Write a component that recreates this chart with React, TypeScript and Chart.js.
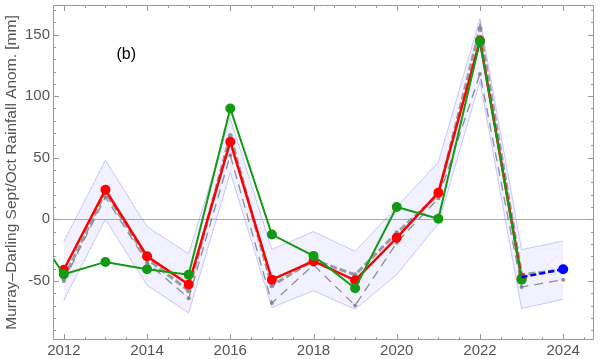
import React, { useEffect, useRef } from "react";
import { Chart, registerables } from "chart.js";

Chart.register(...registerables);

const greenYears = [2011, 2012, 2013, 2014, 2015, 2016, 2017, 2018, 2019, 2020, 2021, 2022, 2023];
const greenValues = [5, -44.6, -34.6, -40.5, -45, 90, -12.4, -29.7, -56, 10, 0.5, 144.6, -49];

const redYears = [2012, 2013, 2014, 2015, 2016, 2017, 2018, 2019, 2020, 2021, 2022, 2023];
const redValues = [-41, 24, -30, -53, 63, -49, -34, -49.5, -15, 21.6, 145, -48];

const blueYears = [2023, 2024];
const blueValues = [-47, -40.5];

const greyYears = [2012, 2013, 2014, 2015, 2016, 2017, 2018, 2019, 2020, 2021, 2022, 2023, 2024];
const greyAValues = [-48, 22, -32, -58, 68, -54, -33, -45, -11, 20, 155, -45, -41];
const greyBValues = [-50, 18, -35, -64, 52, -68, -37, -70, -19, 17, 118, -55, -49];

const bandYears = [2012, 2013, 2014, 2015, 2016, 2017, 2018, 2019, 2020, 2021, 2022, 2023, 2024];
const bandUpper = [-18, 48, -6, -28, 82, -24.5, -10, -26, 10, 46.5, 163, -24.6, -17.6];
const bandLower = [-66, 0, -53.5, -76, 38, -71.6, -58, -73, -45, -3.5, 112, -72.5, -65];

const xTickLabels = [2012, 2014, 2016, 2018, 2020, 2022, 2024];
const yTickLabels = [-50, 0, 50, 100, 150];

const panelLabel = "(b)";
const yTitle = "Murray\u2013Darling Sept/Oct Rainfall Anom. [mm]";

const toPts = (xs: number[], ys: number[]) => xs.map((x, i) => ({ x, y: ys[i] }));

const FONT = "'Liberation Sans', Arial, Helvetica, sans-serif";
const AXIS_COLOR = "#9a9a9a";
const TEXT_COLOR = "#555555";

const framePlugin = {
  id: "frameTicks",
  afterDraw(chart: any) {
    const { ctx, chartArea, scales } = chart;
    const { left, right, top, bottom } = chartArea;
    const xs = scales.x;
    const ys = scales.y;
    ctx.save();
    ctx.strokeStyle = AXIS_COLOR;
    ctx.lineWidth = 1;
    ctx.beginPath();
    ctx.rect(left + 0.5, top + 0.5, right - left - 1, bottom - top - 1);
    ctx.stroke();
    for (let v = 2011.5; v <= 2025; v += 0.5) {
      const px = Math.round(xs.getPixelForValue(v)) + 0.5;
      if (px <= left + 1 || px >= right - 1) continue;
      const major = Math.abs(v - Math.round(v)) < 1e-6 && Math.round(v) % 2 === 0;
      const len = major ? 6 : 3;
      ctx.beginPath();
      ctx.moveTo(px, bottom);
      ctx.lineTo(px, bottom - len);
      ctx.moveTo(px, top);
      ctx.lineTo(px, top + len);
      ctx.stroke();
    }
    for (let v = -90; v <= 170; v += 10) {
      const py = Math.round(ys.getPixelForValue(v)) + 0.5;
      if (py <= top + 1 || py >= bottom - 1) continue;
      const major = v % 50 === 0;
      const len = major ? 6 : 3;
      ctx.beginPath();
      ctx.moveTo(left, py);
      ctx.lineTo(left + len, py);
      ctx.moveTo(right, py);
      ctx.lineTo(right - len, py);
      ctx.stroke();
    }
    ctx.fillStyle = "#000";
    ctx.font = `16px ${FONT}`;
    ctx.textAlign = "center";
    ctx.textBaseline = "middle";
    ctx.fillText(panelLabel, xs.getPixelForValue(2013.5), ys.getPixelForValue(134));
    ctx.restore();
  },
};

export default function App() {
  const ref = useRef<HTMLCanvasElement | null>(null);

  useEffect(() => {
    document.body.style.margin = "0";
    const canvas = ref.current;
    if (!canvas) return;
    const greyA = "rgba(140,140,150,0.85)";
    const greyB = "rgba(130,130,140,0.9)";
    const chart = new Chart(canvas, {
      type: "line",
      data: {
        datasets: [
          {
            label: "band upper",
            data: toPts(bandYears, bandUpper),
            borderColor: "rgba(140,140,255,0.45)",
            borderWidth: 1,
            backgroundColor: "rgba(120,120,255,0.1)",
            pointRadius: 0,
            fill: "+1",
            order: 10,
          },
          {
            label: "band lower",
            data: toPts(bandYears, bandLower),
            borderColor: "rgba(140,140,255,0.45)",
            borderWidth: 1,
            pointRadius: 0,
            fill: false,
            order: 9,
          },
          {
            label: "grey B",
            data: toPts(greyYears, greyBValues),
            borderColor: greyB,
            borderWidth: 1.3,
            borderDash: [9, 6],
            pointRadius: 2,
            pointBackgroundColor: greyB,
            pointBorderWidth: 0,
            fill: false,
            order: 8,
          },
          {
            label: "grey A",
            data: toPts(greyYears, greyAValues),
            borderColor: greyA,
            borderWidth: 3,
            borderDash: [7, 3],
            pointRadius: 2.5,
            pointBackgroundColor: greyA,
            pointBorderWidth: 0,
            fill: false,
            order: 7,
          },
          {
            label: "red",
            data: toPts(redYears, redValues),
            borderColor: "#ff0000",
            borderWidth: 2.5,
            pointRadius: 5,
            pointBackgroundColor: "#ff0000",
            pointBorderWidth: 0,
            fill: false,
            order: 3,
          },
          {
            label: "green",
            data: toPts(greenYears, greenValues),
            borderColor: "#149914",
            borderWidth: 2,
            pointRadius: 5,
            pointBackgroundColor: "#149914",
            pointBorderWidth: 0,
            fill: false,
            order: 2,
          },
          {
            label: "blue",
            data: toPts(blueYears, blueValues),
            borderColor: "#0000ff",
            borderWidth: 2.5,
            borderDash: [6, 3],
            pointRadius: [0, 5],
            pointBackgroundColor: "#0000ff",
            pointBorderWidth: 0,
            fill: false,
            order: 1,
          },
        ],
      },
      options: {
        responsive: false,
        animation: false,
        layout: { padding: { left: 0, right: 6, top: 5, bottom: 0 } },
        plugins: { legend: { display: false }, tooltip: { enabled: false } },
        elements: { line: { tension: 0 } },
        scales: {
          x: {
            type: "linear",
            min: 2011.74,
            max: 2024.74,
            grid: { display: false, drawTicks: false },
            border: { display: false },
            afterBuildTicks: (scale: any) => {
              scale.ticks = xTickLabels.map((v) => ({ value: v }));
            },
            ticks: {
              includeBounds: false,
              padding: 2,
              color: TEXT_COLOR,
              font: { family: FONT, size: 15 },
              callback: (v: any) => String(v),
            },
            afterFit: (scale: any) => {
              scale.height = 19;
              scale.paddingLeft = 0;
              scale.paddingRight = 0;
            },
          },
          y: {
            type: "linear",
            min: -98,
            max: 174,
            grid: {
              drawTicks: false,
              color: (c: any) => (c.tick && c.tick.value === 0 ? "rgba(150,150,150,0.8)" : "rgba(0,0,0,0)"),
            },
            border: { display: false },
            afterBuildTicks: (scale: any) => {
              scale.ticks = yTickLabels.map((v) => ({ value: v }));
            },
            ticks: {
              includeBounds: false,
              padding: 3,
              color: TEXT_COLOR,
              font: { family: FONT, size: 15 },
              callback: (v: any) => String(v),
            },
            title: {
              display: true,
              text: yTitle,
              color: TEXT_COLOR,
              font: { family: FONT, size: 15.5 },
              padding: { top: 2, bottom: 0 },
            },
            afterFit: (scale: any) => {
              scale.width = 53;
              scale.paddingTop = 0;
              scale.paddingBottom = 0;
            },
          },
        },
      },
      plugins: [framePlugin],
    } as any);
    return () => chart.destroy();
  }, []);

  return <canvas ref={ref} width={600} height={359} style={{ display: "block" }} />;
}
